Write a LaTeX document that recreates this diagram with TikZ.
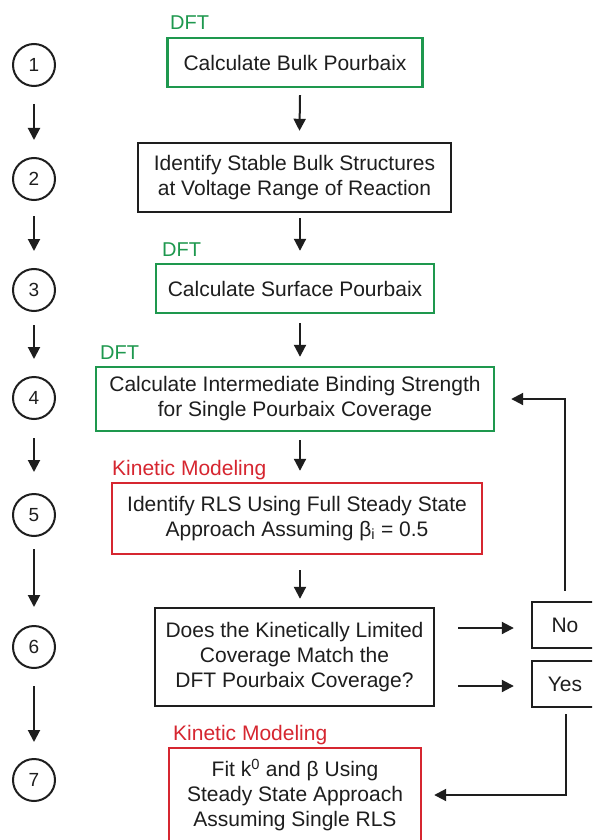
\documentclass[tikz,border=0pt]{standalone}
\usepackage{fontspec}
\setmainfont{Liberation Sans}
\usetikzlibrary{arrows.meta}
\definecolor{dftgreen}{RGB}{30,152,78}
\definecolor{kinred}{RGB}{214,38,48}
\definecolor{ink}{RGB}{30,30,30}
\tikzset{
  boxbase/.style={draw, rectangle, line width=2.4pt, inner sep=0pt, align=center,
    font=\fontsize{21}{25}\selectfont, text=ink},
  greenbox/.style={boxbase, draw=dftgreen},
  redbox/.style={boxbase, draw=kinred},
  blackbox/.style={boxbase, draw=ink},
  numcirc/.style={draw=ink, circle, line width=2pt, minimum size=42pt, inner sep=0pt,
    font=\fontsize{19}{19}\selectfont, text=ink},
  arr/.style={draw=ink, line width=2pt, -{Triangle[length=12pt,width=12pt]}},
  dftlab/.style={anchor=base west, inner sep=0pt, text=dftgreen, font=\fontsize{20}{20}\selectfont},
  kinlab/.style={anchor=base west, inner sep=0pt, text=kinred, font=\fontsize{21}{21}\selectfont}
}
\begin{document}
\begin{tikzpicture}[x=1pt,y=-1pt]
\useasboundingbox (0,0) rectangle (592,840);
\clip (0,0) rectangle (592,840);
\fill[white] (0,0) rectangle (592,840);

% step circles
\node[numcirc] (c1) at (34,65) {1};
\node[numcirc] (c2) at (34,179) {2};
\node[numcirc] (c3) at (34,290) {3};
\node[numcirc] (c4) at (34,398) {4};
\node[numcirc] (c5) at (34,515) {5};
\node[numcirc] (c6) at (34,647) {6};
\node[numcirc] (c7) at (34,780) {7};

\draw[arr] ([yshift=-17pt]c1.south) -- ([yshift=17pt]c2.north);
\draw[arr] ([yshift=-15pt]c2.south) -- ([yshift=17pt]c3.north);
\draw[arr] ([yshift=-13pt]c3.south) -- ([yshift=17pt]c4.north);
\draw[arr] ([yshift=-18pt]c4.south) -- ([yshift=21pt]c5.north);
\draw[arr] ([yshift=-12pt]c5.south) -- ([yshift=18pt]c6.north);
\draw[arr] ([yshift=-17pt]c6.south) -- ([yshift=16pt]c7.north);

% boxes
\node[greenbox, minimum width=255pt, minimum height=49pt] (b1) at (295,62.5) {Calculate Bulk Pourbaix};
\node[blackbox, minimum width=313pt, minimum height=69pt] (b2) at (294.5,177.5) {Identify Stable Bulk Structures\\at Voltage Range of Reaction};
\node[greenbox, minimum width=278pt, minimum height=49pt] (b3) at (295,288.5) {Calculate Surface Pourbaix};
\node[greenbox, minimum width=398pt, minimum height=64pt] (b4) at (295,399) {Calculate Intermediate Binding Strength\\for Single Pourbaix Coverage};
\node[redbox, minimum width=370pt, minimum height=71pt] (b5) at (297,518.5) {Identify RLS Using Full Steady State\\Approach Assuming β\textsubscript{i} = 0.5};
\node[blackbox, minimum width=279pt, minimum height=98pt] (b6) at (294.5,657) {Does the Kinetically Limited\\Coverage Match the\\DFT Pourbaix Coverage?};
\node[redbox, minimum width=252pt, minimum height=94pt] (b7) at (295,795) {Fit k\textsuperscript{0} and β Using\\Steady State Approach\\Assuming Single RLS};
\node[blackbox, minimum width=66pt, minimum height=46pt] (no) at (565,625) {No};
\node[blackbox, minimum width=66pt, minimum height=46pt] (yes) at (565,684) {Yes};

% labels
\node[dftlab] (l1) at (170,30) {DFT};
\node[dftlab] (l3) at (162,256) {DFT};
\node[dftlab] (l4) at (100,359) {DFT};
\node[kinlab] (l5) at (112,475) {Kinetic Modeling};
\node[kinlab] (l7) at (173,740) {Kinetic Modeling};

% main flow arrows
\draw[arr] ([xshift=5pt,yshift=-7pt]b1.south) -- ([xshift=5pt,yshift=11pt]b2.north);
\draw[arr] ([xshift=5.5pt,yshift=-5pt]b2.south) -- ([xshift=5pt,yshift=12pt]b3.north);
\draw[arr] ([xshift=5pt,yshift=-9pt]b3.south) -- ([xshift=5pt,yshift=9pt]b4.north);
\draw[arr] ([xshift=5pt,yshift=-8pt]b4.south) -- ([xshift=3pt,yshift=11pt]b5.north);
\draw[arr] ([xshift=3pt,yshift=-15pt]b5.south) -- ([xshift=5.5pt,yshift=8pt]b6.north);

% decision arrows
\draw[arr] ([xshift=23pt,yshift=-3pt]b6.east |- no.west) -- ([xshift=-17pt,yshift=-3pt]no.west);
\draw[arr] ([xshift=23pt,yshift=-2pt]b6.east |- yes.west) -- ([xshift=-17pt,yshift=-2pt]yes.west);

% feedback and final
\draw[arr] ([yshift=10pt]no.north) |- ([xshift=16pt]b4.east);
\draw[arr] ([xshift=1pt,yshift=-6pt]yes.south) |- ([xshift=12pt]b7.east);
\end{tikzpicture}
\end{document}
